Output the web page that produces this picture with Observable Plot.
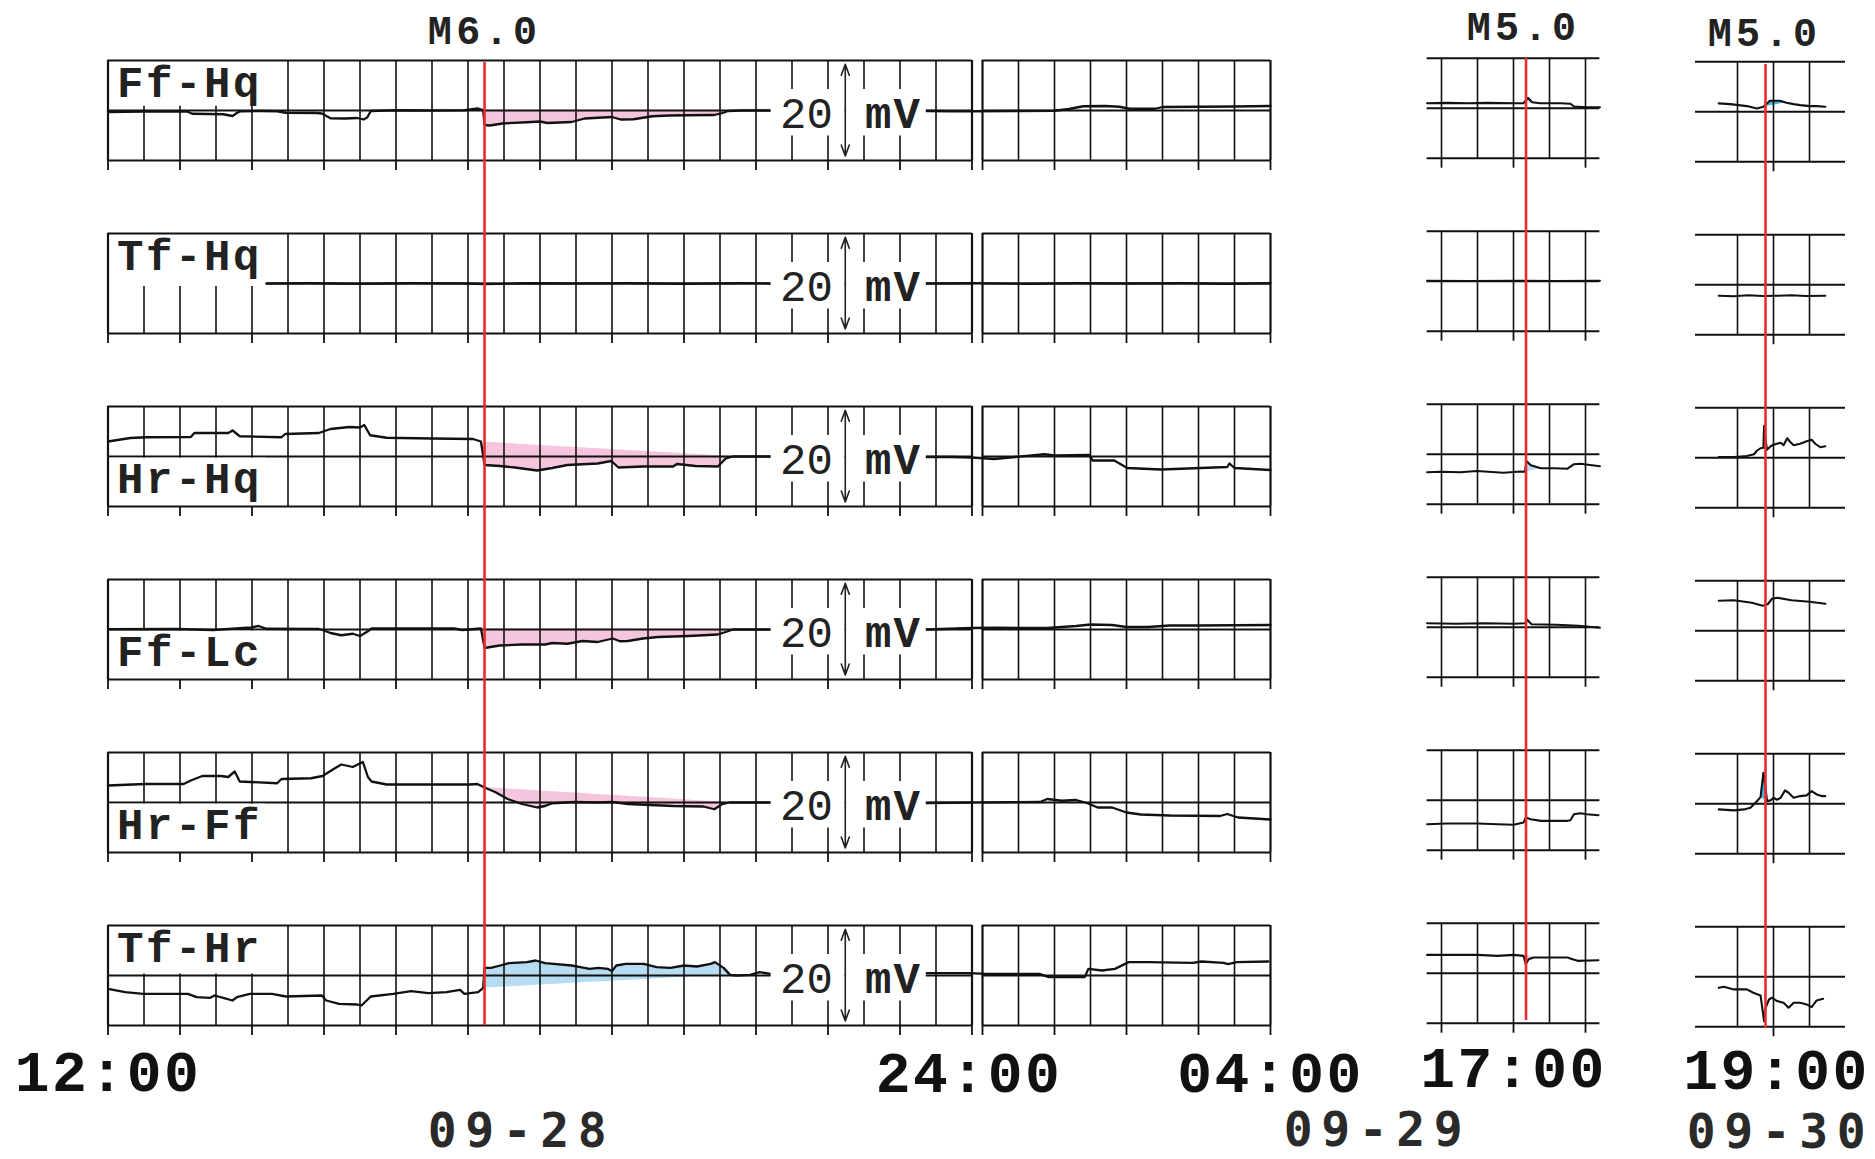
<!DOCTYPE html>
<html><head><meta charset="utf-8">
<script src="https://cdn.jsdelivr.net/npm/d3@7"></script>
<script src="https://cdn.jsdelivr.net/npm/@observablehq/plot@0.6"></script>
<style>html,body{margin:0;padding:0;background:#fff;} #chart{width:1875px;height:1159px;}</style>
</head><body><div id="chart"></div>
<script>
// ---------------- DATA ----------------
const rowNames = ["Ff-Hq", "Tf-Hq", "Hr-Hq", "Ff-Lc", "Hr-Ff", "Tf-Hr"];
const rowLabelAtTop = [true, true, false, false, false, true];

// events: hours since 09-28 00:00
const events = [
  {panel: "AB", t: 17.23, label: "M6.0"},
  {panel: "C", t: 24 + 17.174, label: "M5.0"},
  {panel: "D", t: 48 + 18.889, label: "M5.0"}
];

// main record: [hours since 09-28 00:00, mV]  (12:00 .. 28 = 09-29 04:00)
const mainFfHq = [[12.0,-0.3],[12.25,-0.25],[12.49,-0.2],[12.8,-0.15],[13.1,-0.2],[13.17,-0.65],[13.4,-0.7],[13.6,-0.75],[13.73,-1.1],[13.8,-0.4],[13.85,-0.15],[14.1,-0.1],[14.35,-0.15],[14.47,-0.45],[14.9,-0.5],[14.97,-0.6],[15.09,-1.55],[15.3,-1.6],[15.46,-1.5],[15.55,-1.8],[15.6,-1.4],[15.65,-0.1],[16.0,0.05],[16.5,0.0],[16.95,0.05],[17.14,0.4],[17.21,0.1],[17.23,-2.9],[17.3,-3.0],[17.48,-2.6],[17.82,-2.35],[18.0,-2.2],[18.1,-2.5],[18.44,-2.3],[18.62,-1.6],[19.0,-1.3],[19.12,-1.8],[19.3,-1.75],[19.56,-1.15],[19.8,-1.0],[20.05,-0.95],[20.42,-0.9],[20.55,-0.45],[20.61,-0.1],[20.8,0.0],[21.2,0.0],[23.37,-0.1],[23.7,-0.15],[24.0,-0.15],[24.5,-0.1],[25.0,-0.05],[25.2,0.3],[25.4,0.85],[25.7,0.9],[25.9,0.75],[26.04,0.35],[26.4,0.35],[26.5,0.7],[27.0,0.75],[27.5,0.8],[28.0,0.9]];
const mainTfHq = [[14.2,0.0],[14.8,0.05],[15.5,-0.05],[16.2,0.05],[17.0,0.0],[17.23,-0.1],[17.8,0.05],[18.5,0.0],[19.2,0.05],[20.0,-0.05],[20.8,0.05],[21.2,0.0],[23.37,0.0],[24.0,0.05],[24.6,-0.05],[25.3,0.05],[26.0,0.0],[26.8,0.05],[27.4,-0.05],[28.0,0.05]];
const mainHrHq = [[12.0,3.0],[12.31,3.7],[12.52,3.85],[13.15,3.9],[13.2,4.7],[13.67,4.7],[13.73,5.2],[13.83,4.05],[14.41,3.85],[14.46,4.5],[14.93,4.7],[15.09,5.5],[15.35,5.9],[15.5,5.8],[15.56,6.3],[15.64,4.25],[15.87,3.75],[16.5,3.6],[17.07,3.5],[17.18,3.0],[17.23,-1.7],[17.44,-1.9],[17.65,-2.2],[17.96,-2.8],[18.17,-2.3],[18.38,-1.7],[18.8,-1.4],[18.99,-0.9],[19.09,-2.2],[19.43,-2.0],[19.85,-2.0],[19.9,-1.5],[20.16,-1.9],[20.47,-2.0],[20.58,-0.4],[20.68,0.0],[21.2,0.0],[23.37,-0.1],[23.72,-0.1],[24.0,-0.2],[24.16,-0.5],[24.86,0.45],[25.0,0.2],[25.48,0.3],[25.53,-0.8],[25.83,-0.8],[26.01,-2.3],[26.48,-2.6],[27.4,-2.1],[27.43,-1.4],[27.5,-2.3],[28.0,-2.7]];
const mainFfLc = [[12.0,0.05],[12.94,0.1],[13.46,-0.1],[13.99,0.4],[14.09,0.7],[14.2,0.15],[14.93,0.1],[14.98,-0.1],[15.09,-0.7],[15.24,-1.15],[15.4,-0.85],[15.5,-1.3],[15.61,-0.35],[15.66,0.2],[16.81,0.2],[16.92,-0.1],[17.18,0.2],[17.23,-3.7],[17.44,-3.2],[17.75,-3.0],[18.07,-3.0],[18.17,-2.7],[18.38,-2.85],[18.59,-2.3],[18.8,-2.5],[19.01,-1.8],[19.11,-2.35],[19.22,-2.3],[19.43,-1.8],[19.64,-1.5],[20.06,-1.3],[20.27,-1.15],[20.47,-1.0],[20.58,-0.5],[20.68,0.0],[21.2,0.0],[23.37,0.0],[24.0,0.3],[24.2,0.35],[24.9,0.3],[25.3,0.7],[25.5,1.0],[25.8,0.9],[26.0,0.5],[26.3,0.5],[26.6,0.8],[27.0,0.8],[27.5,0.85],[28.0,0.9]];
const mainHrFf = [[12.0,3.4],[12.52,3.7],[13.05,3.7],[13.15,4.4],[13.31,5.3],[13.57,5.3],[13.67,5.1],[13.76,6.2],[13.83,4.2],[14.35,3.85],[14.41,4.7],[14.82,4.85],[14.98,5.3],[15.14,6.75],[15.24,7.6],[15.4,7.1],[15.54,8.1],[15.61,5.1],[15.66,4.2],[15.87,3.6],[17.02,3.6],[17.13,3.7],[17.23,3.0],[17.39,2.0],[17.55,0.7],[17.75,-0.3],[17.96,-1.0],[18.07,-0.7],[18.17,-0.15],[18.49,0.1],[18.8,0.0],[19.01,0.1],[19.22,-0.3],[19.85,-0.7],[20.27,-0.8],[20.42,-1.35],[20.53,-0.35],[20.63,0.0],[21.2,0.0],[23.37,-0.1],[24.0,0.0],[24.8,0.1],[24.9,0.7],[25.1,0.35],[25.3,0.5],[25.45,-0.1],[25.6,-1.0],[25.8,-1.0],[26.0,-2.0],[26.2,-2.4],[26.6,-2.6],[27.3,-2.7],[27.4,-2.3],[27.55,-3.0],[28.0,-3.4]];
const mainTfHr = [[12.0,-2.67],[12.24,-3.33],[12.49,-3.67],[13.11,-3.67],[13.23,-4.33],[13.42,-4.47],[13.48,-4.0],[13.6,-4.47],[13.73,-5.0],[13.79,-4.33],[13.97,-3.67],[14.28,-3.67],[14.47,-4.2],[14.97,-4.0],[15.03,-5.0],[15.21,-5.67],[15.46,-5.8],[15.52,-6.0],[15.65,-4.2],[15.96,-3.67],[16.21,-3.13],[16.45,-3.53],[16.7,-3.33],[16.89,-2.87],[16.95,-3.67],[17.14,-3.33],[17.21,-2.53],[17.23,1.53],[17.32,1.53],[17.45,2.0],[17.57,2.47],[17.82,2.67],[17.94,3.0],[18.07,2.47],[18.19,2.33],[18.44,2.0],[18.56,1.67],[18.69,1.33],[18.81,1.53],[18.94,1.33],[19.0,0.87],[19.06,2.0],[19.19,2.33],[19.44,2.33],[19.62,1.67],[19.81,1.53],[20.0,2.0],[20.18,1.8],[20.37,2.33],[20.43,2.67],[20.55,1.53],[20.64,0.13],[20.73,0.0],[20.92,0.13],[21.05,0.67],[21.2,0.33],[23.37,0.47],[23.95,0.47],[24.05,0.33],[24.79,0.33],[24.92,-0.33],[25.42,-0.33],[25.47,1.33],[25.66,1.0],[25.84,1.33],[26.03,2.67],[26.3,2.67],[26.92,2.53],[27.04,2.8],[27.35,2.53],[27.41,2.27],[27.53,2.67],[27.97,2.8]];

// 09-29 around 17:00: [hour of day, mV]
const cFfHq = [[15.8,1.0],[16.08,1.07],[16.36,1.0],[16.63,1.07],[17.0,1.0],[17.14,1.0],[17.2,2.07],[17.26,1.2],[17.37,1.0],[17.65,1.0],[17.79,0.9],[17.84,0.33],[18.02,0.2],[18.2,0.2]];
const cTfHq = [[15.8,0.1],[16.4,0.05],[17.0,0.1],[17.6,0.05],[18.2,0.1]];
const cHrHq = [[15.8,-3.6],[15.99,-3.5],[16.26,-3.6],[16.49,-3.35],[16.86,-3.7],[17.1,-3.45],[17.16,-3.5],[17.18,-1.35],[17.24,-2.2],[17.38,-2.8],[17.56,-2.8],[17.75,-2.9],[17.84,-2.0],[17.93,-1.9],[18.2,-2.4]];
const cFfLc = [[15.8,0.8],[16.2,0.7],[16.6,0.8],[17.0,0.7],[17.16,0.8],[17.19,1.5],[17.25,0.6],[17.6,0.5],[17.9,0.3],[18.2,-0.1]];
const cHrFf = [[15.8,-4.8],[16.08,-4.67],[16.5,-4.67],[16.78,-4.8],[17.0,-4.9],[17.14,-4.45],[17.17,-3.47],[17.24,-3.8],[17.38,-4.13],[17.75,-4.13],[17.79,-4.0],[17.84,-2.8],[17.93,-2.6],[18.02,-2.8],[18.18,-3.0]];
const cTfHr = [[15.8,3.67],[16.5,3.67],[16.78,3.47],[17.0,3.67],[17.14,3.47],[17.17,1.8],[17.21,2.8],[17.28,3.13],[17.75,3.13],[17.82,2.8],[17.89,2.47],[18.18,2.6]];

// 09-30 around 19:00: [hour of day, mV]
const dFfHq = [[18.24,1.67],[18.4,1.53],[18.63,1.13],[18.77,0.67],[18.86,1.0],[18.91,1.67],[18.95,2.2],[19.09,2.2],[19.18,1.8],[19.28,1.53],[19.37,1.33],[19.51,1.13],[19.6,1.13],[19.72,1.0]];
const dTfHq = [[18.24,-2.2],[18.45,-2.3],[18.65,-2.1],[18.85,-2.25],[19.05,-2.2],[19.25,-2.1],[19.45,-2.25],[19.72,-2.2]];
const dHrHq = [[18.24,0.14],[18.45,0.14],[18.63,0.35],[18.73,0.7],[18.77,1.4],[18.82,1.9],[18.86,2.0],[18.87,6.4],[18.89,3.6],[18.91,1.6],[18.96,2.3],[19.0,2.6],[19.1,3.0],[19.14,2.5],[19.19,3.9],[19.23,3.2],[19.28,2.5],[19.37,2.8],[19.46,3.3],[19.53,3.6],[19.58,2.8],[19.65,2.1],[19.72,2.3]];
const dFfLc = [[18.24,6.0],[18.45,6.1],[18.7,5.6],[18.85,5.0],[18.92,5.3],[18.98,6.4],[19.05,6.6],[19.25,6.1],[19.5,5.8],[19.72,5.4]];
const dHrFf = [[18.24,-1.13],[18.45,-1.33],[18.59,-1.13],[18.68,-0.8],[18.75,0.2],[18.82,1.33],[18.86,6.2],[18.89,3.2],[18.91,0.53],[18.96,0.67],[19.0,1.2],[19.05,0.8],[19.1,1.2],[19.16,2.67],[19.21,2.2],[19.28,1.2],[19.37,1.53],[19.46,1.67],[19.53,2.53],[19.6,1.87],[19.67,1.53],[19.72,1.53]];
const dTfHr = [[18.24,-2.2],[18.31,-2.0],[18.45,-2.53],[18.63,-2.53],[18.72,-3.2],[18.82,-3.73],[18.87,-8.9],[18.89,-6.2],[18.94,-4.5],[18.98,-4.2],[19.05,-4.87],[19.14,-5.2],[19.21,-6.2],[19.28,-5.2],[19.37,-5.2],[19.46,-5.53],[19.53,-6.07],[19.6,-4.73],[19.69,-4.4]];

const traceSets = [
  {row: 0, panel: "AB", day: 0, pts: mainFfHq}, {row: 1, panel: "AB", day: 0, pts: mainTfHq},
  {row: 2, panel: "AB", day: 0, pts: mainHrHq}, {row: 3, panel: "AB", day: 0, pts: mainFfLc},
  {row: 4, panel: "AB", day: 0, pts: mainHrFf}, {row: 5, panel: "AB", day: 0, pts: mainTfHr},
  {row: 0, panel: "C", day: 24, pts: cFfHq}, {row: 1, panel: "C", day: 24, pts: cTfHq},
  {row: 2, panel: "C", day: 24, pts: cHrHq}, {row: 3, panel: "C", day: 24, pts: cFfLc},
  {row: 4, panel: "C", day: 24, pts: cHrFf}, {row: 5, panel: "C", day: 24, pts: cTfHr},
  {row: 0, panel: "D", day: 48, pts: dFfHq}, {row: 1, panel: "D", day: 48, pts: dTfHq},
  {row: 2, panel: "D", day: 48, pts: dHrHq}, {row: 3, panel: "D", day: 48, pts: dFfLc},
  {row: 4, panel: "D", day: 48, pts: dHrFf}, {row: 5, panel: "D", day: 48, pts: dTfHr}
];

// anomaly shading: trace vs. linear reference from (t0,b0) to (t1,b1), times as hour of day
const fillSpans = [
  {row: 0, panel: "AB", t0: 17.23, t1: 20.61, b0: 0.05, b1: -0.1, kind: "pink"},
  {row: 2, panel: "AB", t0: 17.23, t1: 20.68, b0: 2.85, b1: 0.0, kind: "pink"},
  {row: 3, panel: "AB", t0: 17.23, t1: 20.68, b0: 0.2, b1: 0.0, kind: "pink"},
  {row: 4, panel: "AB", t0: 17.23, t1: 20.63, b0: 3.0, b1: 0.0, kind: "pink"},
  {row: 5, panel: "AB", t0: 17.23, t1: 20.64, b0: -2.5, b1: 0.13, kind: "blue"},
  {row: 0, panel: "C", t0: 17.2, t1: 17.37, b0: 1.0, b1: 1.0, kind: "blue"},
  {row: 2, panel: "C", t0: 17.18, t1: 17.38, b0: -3.5, b1: -2.9, kind: "blue"},
  {row: 5, panel: "C", t0: 17.17, t1: 17.28, b0: 3.6, b1: 3.2, kind: "pink"},
  {row: 0, panel: "D", t0: 18.86, t1: 19.18, b0: 1.0, b1: 1.8, kind: "cyan"},
  {row: 2, panel: "D", t0: 18.86, t1: 18.91, b0: 2.0, b1: 1.6, kind: "cyan"},
  {row: 4, panel: "D", t0: 18.82, t1: 18.91, b0: 1.33, b1: 0.53, kind: "cyan"}
];

// axis ticks (hours since 09-28 00:00) and their labels
const B0 = 24.00001; // 09-29 00:00, start of the second block
const timeLabels = [{t: 12, label: "12:00"}, {t: 24, label: "24:00"}, {t: 28, label: "04:00"}, {t: 41, label: "17:00"}, {t: 67, label: "19:00"}];
const dateLabels = [{t: 17.7, label: "09-28"}, {t: 28, label: "09-29"}, {t: 67, label: "09-30"}];
const scaleBar = {mv: 20, label: "mV", t: 22.24, tNum: 21.70, tUnit: 22.91};

// ---------------- LAYOUT / STYLE ----------------
const layout = {
  width: 1875, height: 1159, marginTop: 60, marginBottom: 134,
  xDomain: [12, 24, B0, 28, 39.8, 42.2, 65.917, 68],
  xRange: [107.5, 971.5, 982, 1270, 1426.6, 1599.4, 1695, 1845],
  yDomain: [-183, 10], pitch: 34.6, half: 10,
  shift: {AB: 0, A: 0, B: 0, C: 0.46, D: -0.25}
};
const gridPanels = [
  {id: "A", x1: 12, x2: 24, frame: true, grid: d3.range(12, 24.001, 0.5), ticks: d3.range(12, 24.001, 1)},
  {id: "B", x1: B0, x2: 28, frame: true, grid: [B0, ...d3.range(24.5, 28.001, 0.5)], ticks: [B0, 25, 26, 27, 28]},
  {id: "C", x1: 39.8, x2: 42.2, frame: false, grid: d3.range(40, 42.001, 0.5), ticks: [40, 41, 42]},
  {id: "D", x1: 65.917, x2: 68, frame: false, grid: [66.5, 67, 67.5], ticks: [67]}
];
const colors = {pink: "#f5c4dd", blue: "#b6dcf1", cyan: "#3fb6e6", red: "#ee2b2b", ink: "#111111", text: "#222222"};
const mono = "'Liberation Mono', 'DejaVu Sans Mono', monospace";
const sansMono = "'DejaVu Sans Mono', 'Liberation Mono', monospace";

const off = k => -layout.pitch * k;
const rowIdx = d3.range(rowNames.length);

// ---------------- DERIVED TABLES ----------------
const tracePts = [];
traceSets.forEach((s, i) => {
  const sh = layout.shift[s.panel];
  s.pts.forEach(([t, v]) => tracePts.push({id: i, panel: s.panel, x: t + s.day, y: v + off(s.row) + sh}));
});

const fillPts = [];
fillSpans.forEach((f, i) => {
  const s = traceSets.find(d => d.row === f.row && d.panel === f.panel);
  const sh = layout.shift[f.panel] + off(f.row);
  s.pts.filter(([t]) => t >= f.t0 - 1e-9 && t <= f.t1 + 1e-9).forEach(([t, v]) => {
    const b = f.b0 + (f.b1 - f.b0) * (t - f.t0) / (f.t1 - f.t0);
    fillPts.push({id: i, x: t + s.day, y: v + sh, b: b + sh, color: colors[f.kind]});
  });
});

const vGrid = [], vBorder = [], hFrame = [], hMid = [], ticks = [];
for (const k of rowIdx) {
  for (const p of gridPanels) {
    const sh = layout.shift[p.id];
    const top = off(k) + layout.half + sh, bot = off(k) - layout.half + sh, mid = off(k) + sh;
    for (const g of p.grid) {
      const isBorder = p.frame && (g === p.x1 || g === p.x2);
      (isBorder ? vBorder : vGrid).push({x: g, y1: bot, y2: top});
    }
    hFrame.push({x1: p.x1, x2: p.x2, y: top}, {x1: p.x1, x2: p.x2, y: bot});
    hMid.push({x1: p.x1, x2: p.x2, y: mid});
    for (const t of p.ticks) ticks.push({x: t, y1: bot, y2: bot - 2});
  }
}

// white boxes behind the row names (row 2's box also hides the left part of its centre line)
const boxBottomTop = [0.86, -0.6, 0, 0, 0, 0.3];
const labelBoxes = rowIdx.map(k => rowLabelAtTop[k]
  ? {x1: 12, x2: 14.2, y1: off(k) + boxBottomTop[k], y2: off(k) + 10}
  : {x1: 12, x2: 14.2, y1: off(k) - 10, y2: off(k) - 0.34});
const labelText = rowIdx.map(k => ({x: 12, y: off(k) + (rowLabelAtTop[k] ? 2.66 : -7.2), text: rowNames[k]}));

const barBoxes = rowIdx.map(k => ({x1: 21.21, x2: 23.365, y1: off(k) - 5.1, y2: off(k) + 4.2}));
const barArrows = rowIdx.flatMap(k => [
  {x: scaleBar.t, y1: off(k), y2: off(k) + 9.25},
  {x: scaleBar.t, y1: off(k), y2: off(k) - 9.1}
]);
const barNum = rowIdx.map(k => ({x: scaleBar.tNum, y: off(k) - 0.6, text: String(scaleBar.mv)}));
const barUnit = rowIdx.map(k => ({x: scaleBar.tUnit, y: off(k) - 0.6, text: scaleBar.label}));

const eventLines = [
  {x: events[0].t, y1: 9.6, y2: off(5) - 10},
  {x: events[1].t, y1: 10.46, y2: -182.0},
  {x: events[2].t, y1: 9.2, y2: -183.6}
];
const magStyle = [{dx: 0, dy: -16.5}, {dx: -2.5, dy: -20.5}, {dx: -1, dy: -15}];
const timeStyle = [{dx: 0, dy: 65}, {dx: -3, dy: 66.5}, {dx: 0, dy: 66.5}, {dx: 0, dy: 61.5}, {dx: 3, dy: 63}];
const dateStyle = [{dx: 3, dy: 121}, {dx: 107, dy: 120}, {dx: 7, dy: 122.5}];

// ---------------- PLOT ----------------
const marks = [
  Plot.areaY(fillPts, {x: "x", y1: "b", y2: "y", z: "id", fill: "color", curve: "linear"}),
  Plot.ruleX(vGrid, {x: "x", y1: "y1", y2: "y2", stroke: colors.ink, strokeWidth: 1.6}),
  Plot.ruleY(hMid, {y: "y", x1: "x1", x2: "x2", stroke: colors.ink, strokeWidth: 2}),
  Plot.rect(labelBoxes, {x1: "x1", x2: "x2", y1: "y1", y2: "y2", fill: "white"}),
  Plot.ruleY(hFrame, {y: "y", x1: "x1", x2: "x2", stroke: colors.ink, strokeWidth: 2}),
  Plot.ruleX(vBorder, {x: "x", y1: "y1", y2: "y2", stroke: colors.ink, strokeWidth: 2.2}),
  Plot.ruleX(ticks, {x: "x", y1: "y1", y2: "y2", stroke: colors.ink, strokeWidth: 1.8}),
  Plot.line(tracePts.filter(d => d.panel === "AB"), {x: "x", y: "y", z: "id", stroke: colors.ink, strokeWidth: 2.3, curve: "linear"}),
  Plot.line(tracePts.filter(d => d.panel !== "AB"), {x: "x", y: "y", z: "id", stroke: colors.ink, strokeWidth: 2.1, curve: "linear"}),
  Plot.rect(barBoxes, {x1: "x1", x2: "x2", y1: "y1", y2: "y2", fill: "white"}),
  Plot.arrow(barArrows, {x1: "x", x2: "x", y1: "y1", y2: "y2", stroke: colors.text, strokeWidth: 1.6, headLength: 11, headAngle: 40}),
  Plot.text(barNum, {x: "x", y: "y", text: "text", fontFamily: mono, fontSize: 44, fill: colors.text, lineAnchor: "middle", ariaDescription: "barnum"}),
  Plot.text(barUnit, {x: "x", y: "y", text: "text", fontFamily: mono, fontSize: 44, fontWeight: "bold", fill: colors.text, lineAnchor: "middle", ariaDescription: "barunit"}),
  Plot.text(labelText, {x: "x", y: "y", text: "text", dx: 9, textAnchor: "start", lineAnchor: "bottom", fontFamily: mono, fontSize: 44, fontWeight: "bold", fill: colors.text, ariaDescription: "rowlabel"}),
  Plot.ruleX(eventLines, {x: "x", y1: "y1", y2: "y2", stroke: colors.red, strokeWidth: 2.6}),
  ...events.map((e, i) => Plot.text([e], {x: "t", text: "label", frameAnchor: "top", lineAnchor: "bottom", dx: magStyle[i].dx, dy: magStyle[i].dy, fontFamily: mono, fontSize: 40, fontWeight: "bold", fill: colors.text, ariaDescription: "mag"})),
  ...timeLabels.map((d, i) => Plot.text([d], {x: "t", text: "label", frameAnchor: "bottom", lineAnchor: "bottom", dx: timeStyle[i].dx, dy: timeStyle[i].dy, fontFamily: mono, fontSize: 58, fontWeight: "bold", fill: "#111", ariaDescription: "time"})),
  ...dateLabels.map((d, i) => Plot.text([d], {x: "t", text: "label", frameAnchor: "bottom", lineAnchor: "bottom", dx: dateStyle[i].dx, dy: dateStyle[i].dy, fontFamily: sansMono, fontSize: 48, fontWeight: "bold", fill: "#2a2a2a", ariaDescription: "date"}))
];

const svg = Plot.plot({
  width: layout.width, height: layout.height,
  marginTop: layout.marginTop, marginBottom: layout.marginBottom, marginLeft: 0, marginRight: 0,
  x: {type: "linear", domain: layout.xDomain, range: layout.xRange, axis: null},
  y: {type: "linear", domain: layout.yDomain, axis: null},
  color: {type: "identity"},
  style: {background: "white", overflow: "visible"},
  marks
});

const spacing = {rowlabel: 2.6, mag: 4.4, time: 2.5, date: 8.6, barunit: 2, barnum: 0};
for (const [key, ls] of Object.entries(spacing)) {
  svg.querySelectorAll(`[aria-description="${key}"] text`).forEach(t => t.setAttribute("letter-spacing", ls));
}
document.getElementById("chart").appendChild(svg);
</script>
</body></html>
